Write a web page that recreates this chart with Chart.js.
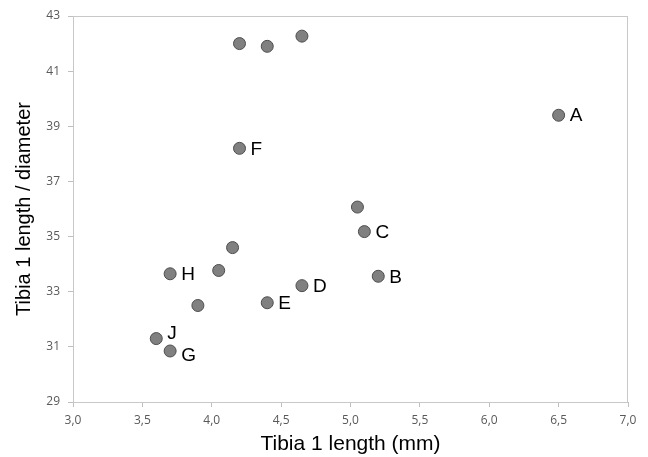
<!DOCTYPE html>
<html>
<head>
<meta charset="utf-8">
<script src="https://cdn.jsdelivr.net/npm/chart.js@4/dist/chart.umd.min.js"></script>
<style>
  html, body { margin: 0; padding: 0; background: #fff; }
  #wrap { width: 648px; height: 457px; }
</style>
</head>
<body>
<div id="wrap"><canvas id="chart" width="648" height="457"></canvas></div>
<script>
// tibia length (mm) vs length / diameter
const tibiaLength = [4.2, 4.4, 4.65, 6.5, 4.2, 5.05, 5.1, 4.15, 4.05, 3.7, 5.2, 4.65, 4.4, 3.9, 3.6, 3.7];
const lengthRatio = [42.0, 41.9, 42.27, 39.4, 38.2, 36.07, 35.18, 34.6, 33.77, 33.65, 33.56, 33.22, 32.6, 32.5, 31.3, 30.85];
const pointLabels = ['', '', '', 'A', 'F', '', 'C', '', '', 'H', 'B', 'D', 'E', '', 'J', 'G'];
const xTicks = [3.0, 3.5, 4.0, 4.5, 5.0, 5.5, 6.0, 6.5, 7.0];
const yTicks = [29, 31, 33, 35, 37, 39, 41, 43];

const pts = tibiaLength.map((x, i) => ({ x: x, y: lengthRatio[i] }));
const commaFmt = v => Number(v).toFixed(1).replace('.', ',');

// little nudges so J and G don't collide
const labelNudge = { J: -6, G: 4 };

const letterPlugin = {
  id: 'letters',
  afterDatasetsDraw(chart) {
    const ctx = chart.ctx;
    const meta = chart.getDatasetMeta(0);
    ctx.save();
    ctx.font = '19px "Liberation Sans", Arial, sans-serif';
    ctx.fillStyle = '#000';
    ctx.textBaseline = 'middle';
    meta.data.forEach((el, i) => {
      const t = pointLabels[i];
      if (!t) return;
      ctx.fillText(t, el.x + 11, el.y + 1 + (labelNudge[t] || 0));
    });
    ctx.restore();
  }
};

const boxPlugin = {
  id: 'box',
  beforeDatasetsDraw(chart) {
    const a = chart.chartArea;
    const ctx = chart.ctx;
    ctx.save();
    ctx.strokeStyle = '#c8c8c8';
    ctx.lineWidth = 1;
    ctx.strokeRect(a.left + 0.5, a.top + 0.5, a.right - a.left - 1, a.bottom - a.top);
    ctx.restore();
  }
};

new Chart(document.getElementById('chart'), {
  type: 'scatter',
  data: {
    datasets: [{
      data: pts,
      pointRadius: 6,
      pointBackgroundColor: '#808080',
      pointBorderColor: '#4d4d4d',
      pointBorderWidth: 1
    }]
  },
  options: {
    responsive: false,
    animation: false,
    layout: { padding: { top: 16, right: 20, left: 0, bottom: 0 } },
    plugins: { legend: { display: false }, tooltip: { enabled: false } },
    scales: {
      x: {
        type: 'linear',
        min: 3, max: 7,
        afterBuildTicks: s => { s.ticks = xTicks.map(v => ({ value: v })); },
        afterFit: s => { s.height = 55; },
        grid: { drawOnChartArea: false, tickLength: 5, color: '#bfbfbf' },
        border: { color: '#bfbfbf' },
        ticks: {
          padding: 6,
          color: '#595959',
          font: { family: '"Open Sans", sans-serif', size: 12 },
          callback: v => commaFmt(v)
        },
        title: {
          display: true,
          text: 'Tibia 1 length (mm)',
          color: '#000',
          font: { family: '"Liberation Sans", Arial, sans-serif', size: 21 },
          padding: { top: 0, bottom: 0 }
        }
      },
      y: {
        min: 29, max: 43,
        afterBuildTicks: s => { s.ticks = yTicks.map(v => ({ value: v })); },
        afterFit: s => { s.width = 73; },
        grid: { drawOnChartArea: false, tickLength: 5, color: '#bfbfbf' },
        border: { color: '#bfbfbf' },
        ticks: {
          padding: 8,
          color: '#595959',
          font: { family: '"Open Sans", sans-serif', size: 12 }
        },
        title: {
          display: true,
          text: 'Tibia 1 length / diameter',
          color: '#000',
          font: { family: '"Liberation Sans", Arial, sans-serif', size: 20 },
          padding: { top: 12, bottom: 0 }
        }
      }
    }
  },
  plugins: [boxPlugin, letterPlugin]
});
</script>
</body>
</html>
